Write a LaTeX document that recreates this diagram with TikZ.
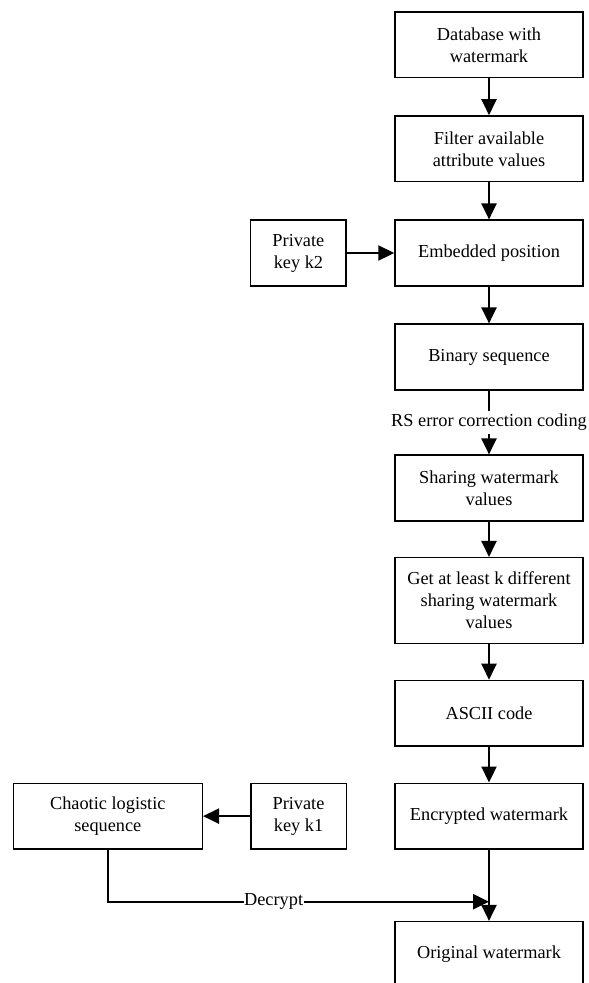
\documentclass[tikz,border=0pt]{standalone}
\usepackage{fontspec}
\setmainfont{Liberation Serif}
\usetikzlibrary{arrows.meta}
\begin{document}
\begin{tikzpicture}[x=1pt,y=-1pt,
  txt/.style={font=\fontsize{18.3}{22}\selectfont},
  box/.style={txt, draw, line width=1.5pt, minimum width=188pt, minimum height=65.7pt, align=center, inner sep=0pt},
  keybox/.style={box, minimum width=95.5pt},
  arr/.style={line width=2.3pt, -{Triangle[length=16pt,width=15pt]}},
  lbl/.style={txt, fill=white, inner xsep=0.5pt, inner ysep=3.5pt}]
\useasboundingbox (0,0) rectangle (589,983);
\clip (0,0) rectangle (589,983);
\node[box] (db) at (489,44.8) {Database with\\watermark};
\node[box] (filt) at (489,148.8) {Filter available\\attribute values};
\node[box] (emb) at (489,253) {Embedded position};
\node[keybox] (k2) at (298.4,253) {Private\\key k2};
\node[box] (bin) at (489,357) {Binary sequence};
\node[box] (share) at (489,488) {Sharing watermark\\values};
\node[box, minimum height=85.6pt] (get) at (489,600.5) {Get at least k different\\sharing watermark\\values};
\node[box] (ascii) at (489,713.3) {ASCII code};
\node[box] (enc) at (489,816.1) {Encrypted watermark};
\node[keybox] (k1) at (298.5,816.1) {Private\\key k1};
\node[box, minimum width=189pt] (chaos) at (107.8,816.1) {Chaotic logistic\\sequence};
\node[box] (orig) at (489,954.5) {Original watermark};
\coordinate (dj) at (489,901.7);
\draw[arr] (db) -- (filt);
\draw[arr] (filt) -- (emb);
\draw[arr] (k2) -- (emb);
\draw[arr] (emb) -- (bin);
\draw[arr] (bin) -- node[lbl]{RS error correction coding} (share);
\draw[arr] (share) -- (get);
\draw[arr] (get) -- (ascii);
\draw[arr] (ascii) -- (enc);
\draw[arr] (k1) -- (chaos);
\draw[arr] (enc) -- (orig);
\draw[arr] (chaos.south) -- (chaos.south |- dj) -- node[lbl, pos=0.435]{Decrypt} (dj);
\end{tikzpicture}
\end{document}
